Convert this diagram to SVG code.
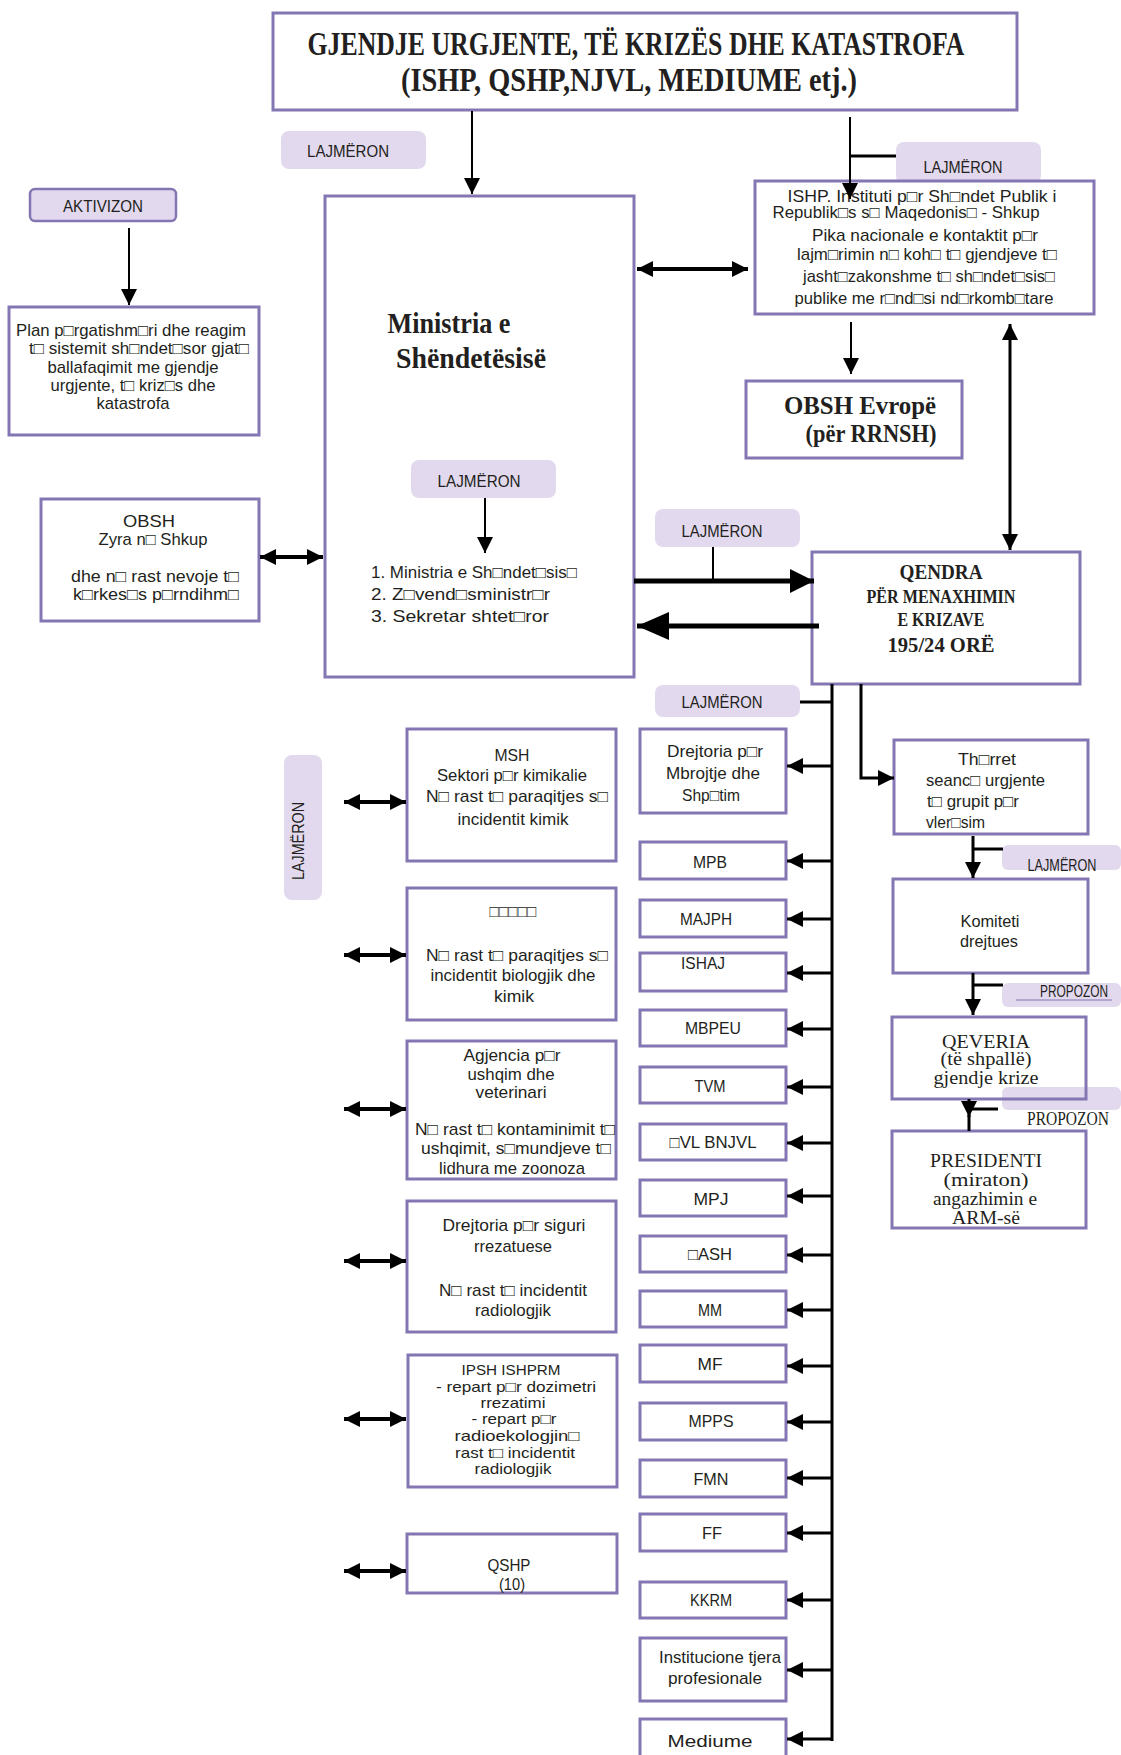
<svg xmlns="http://www.w3.org/2000/svg" width="1121" height="1755" viewBox="0 0 1121 1755">
<style>
.bx{fill:#fff;stroke:#8376b2;stroke-width:3}
.ol{fill:none;stroke:#8376b2;stroke-width:3}
.pl{fill:#e2d9ee}
.t{font-family:"Liberation Sans","DejaVu Sans",sans-serif;font-size:17px;fill:#231f20;text-anchor:middle}
.l{text-anchor:start}
.sm{font-size:15px}
.pt{font-family:"Liberation Sans","DejaVu Sans",sans-serif;font-size:16px;fill:#231f20;text-anchor:middle}
.sb{font-family:"Liberation Serif","DejaVu Serif",serif;font-weight:bold;fill:#231f20;text-anchor:middle}
.sr{font-family:"Liberation Serif","DejaVu Serif",serif;font-size:18px;fill:#231f20;text-anchor:middle}
.c line,.c polyline{stroke:#000;fill:none}
.w2{stroke-width:2}
.w3{stroke-width:3}
.w4{stroke-width:4}
.w5{stroke-width:5}
</style>
<defs>
<marker id="a" viewBox="0 0 16 16" refX="16" refY="8" markerWidth="16" markerHeight="16" orient="auto-start-reverse" markerUnits="userSpaceOnUse"><path d="M0,0L16,8L0,16z" fill="#000"/></marker>
<marker id="bR" viewBox="0 0 24 24" refX="24" refY="12" markerWidth="24" markerHeight="24" orient="auto" markerUnits="userSpaceOnUse"><path d="M0,0L24,12L0,24z" fill="#000"/></marker>
<marker id="bL" viewBox="0 0 32 28" refX="32" refY="14" markerWidth="32" markerHeight="28" orient="auto" markerUnits="userSpaceOnUse"><path d="M0,0L32,14L0,28z" fill="#000"/></marker>
</defs>
<rect width="1121" height="1755" fill="#fff"/>

<g id="title">
<rect class="bx" x="273" y="13" width="744" height="97"/>
<text class="sb" x="636" y="55" font-size="34" textLength="657" lengthAdjust="spacingAndGlyphs">GJENDJE URGJENTE, TË KRIZËS DHE KATASTROFA</text>
<text class="sb" x="629" y="91" font-size="34" textLength="456" lengthAdjust="spacingAndGlyphs">(ISHP, QSHP,NJVL, MEDIUME etj.)</text>
</g>

<g id="pill-lajmeron-1">
<rect class="pl" x="281" y="131" width="145" height="38" rx="8"/>
<text class="pt" x="348" y="157" textLength="82" lengthAdjust="spacingAndGlyphs">LAJMËRON</text>
</g>

<g id="pill-aktivizon">
<rect class="pl" x="30" y="189" width="146" height="32" rx="5" stroke="#8376b2" stroke-width="2.5"/>
<text class="pt" x="103" y="212" textLength="80" lengthAdjust="spacingAndGlyphs">AKTIVIZON</text>
</g>

<g id="plan">
<rect class="bx" x="9" y="307" width="250" height="128"/>
<text class="t" x="131" y="336" textLength="230" lengthAdjust="spacingAndGlyphs">Plan p□rgatishm□ri dhe reagim</text>
<text class="t" x="139" y="354" textLength="220" lengthAdjust="spacingAndGlyphs">t□ sistemit sh□ndet□sor gjat□</text>
<text class="t" x="133" y="373" textLength="171" lengthAdjust="spacingAndGlyphs">ballafaqimit me gjendje</text>
<text class="t" x="133" y="391" textLength="165" lengthAdjust="spacingAndGlyphs">urgjente, t□ kriz□s dhe</text>
<text class="t" x="133" y="409" textLength="73" lengthAdjust="spacingAndGlyphs">katastrofa</text>
</g>

<g id="ministria">
<rect class="bx" x="325" y="196" width="309" height="481"/>
<text class="sb" x="449" y="333" font-size="30" textLength="123" lengthAdjust="spacingAndGlyphs">Ministria e</text>
<text class="sb" x="471" y="368" font-size="30" textLength="150" lengthAdjust="spacingAndGlyphs">Shëndetësisë</text>
<rect class="pl" x="411" y="460" width="145" height="38" rx="8"/>
<text class="pt" x="479" y="487" textLength="83" lengthAdjust="spacingAndGlyphs">LAJMËRON</text>
<text class="t l" x="371" y="578" textLength="206" lengthAdjust="spacingAndGlyphs">1. Ministria e Sh□ndet□sis□</text>
<text class="t l" x="371" y="600" textLength="179" lengthAdjust="spacingAndGlyphs">2. Z□vend□sministr□r</text>
<text class="t l" x="371" y="622" textLength="178" lengthAdjust="spacingAndGlyphs">3. Sekretar shtet□ror</text>
</g>

<g id="obsh-zyra">
<rect class="bx" x="41" y="499" width="218" height="122"/>
<text class="t" x="149" y="527" textLength="52" lengthAdjust="spacingAndGlyphs">OBSH</text>
<text class="t" x="153" y="545" textLength="109" lengthAdjust="spacingAndGlyphs">Zyra n□ Shkup</text>
<text class="t" x="155" y="582" textLength="168" lengthAdjust="spacingAndGlyphs">dhe n□ rast nevoje t□</text>
<text class="t" x="156" y="600" textLength="166" lengthAdjust="spacingAndGlyphs">k□rkes□s p□rndihm□</text>
</g>

<g id="pill-lajmeron-2">
<rect class="pl" x="896" y="142" width="145" height="42" rx="8"/>
<text class="pt" x="963" y="173" textLength="79" lengthAdjust="spacingAndGlyphs">LAJMËRON</text>
</g>

<g id="ishp">
<rect class="bx" x="755" y="181" width="339" height="133"/>
<text class="t" x="922" y="202" textLength="269" lengthAdjust="spacingAndGlyphs">ISHP. Instituti p□r Sh□ndet Publik i</text>
<text class="t" x="906" y="218" textLength="267" lengthAdjust="spacingAndGlyphs">Republik□s s□ Maqedonis□ - Shkup</text>
<text class="t" x="925" y="241" textLength="226" lengthAdjust="spacingAndGlyphs">Pika nacionale e kontaktit p□r</text>
<text class="t" x="927" y="260" textLength="260" lengthAdjust="spacingAndGlyphs">lajm□rimin n□ koh□ t□ gjendjeve t□</text>
<text class="t" x="929" y="282" textLength="252" lengthAdjust="spacingAndGlyphs">jasht□zakonshme t□ sh□ndet□sis□</text>
<text class="t" x="924" y="304" textLength="259" lengthAdjust="spacingAndGlyphs">publike me r□nd□si nd□rkomb□tare</text>
</g>

<g id="obsh-evrope">
<rect class="bx" x="746" y="381" width="216" height="77"/>
<text class="sb" x="860" y="414" font-size="25" textLength="152" lengthAdjust="spacingAndGlyphs">OBSH Evropë</text>
<text class="sb" x="871" y="442" font-size="25" textLength="131" lengthAdjust="spacingAndGlyphs">(për RRNSH)</text>
</g>

<g id="pill-lajmeron-3">
<rect class="pl" x="655" y="509" width="145" height="38" rx="8"/>
<text class="pt" x="722" y="537" textLength="81" lengthAdjust="spacingAndGlyphs">LAJMËRON</text>
</g>

<g id="qendra">
<rect class="bx" x="812" y="552" width="268" height="132"/>
<text class="sb" x="941" y="579" font-size="21" textLength="83" lengthAdjust="spacingAndGlyphs">QENDRA</text>
<text class="sb" x="941" y="603" font-size="19" textLength="149" lengthAdjust="spacingAndGlyphs">PËR MENAXHIMIN</text>
<text class="sb" x="941" y="626" font-size="19" textLength="87" lengthAdjust="spacingAndGlyphs">E KRIZAVE</text>
<text class="sb" x="941" y="652" font-size="21" textLength="107" lengthAdjust="spacingAndGlyphs">195/24 ORË</text>
</g>

<g id="pill-lajmeron-4">
<rect class="pl" x="655" y="685" width="145" height="32" rx="8"/>
<text class="pt" x="722" y="708" textLength="81" lengthAdjust="spacingAndGlyphs">LAJMËRON</text>
</g>

<g id="pill-lajmeron-vertical">
<rect class="pl" x="284" y="755" width="38" height="145" rx="8"/>
<text class="pt" transform="translate(304,841) rotate(-90)" x="0" y="0" textLength="78" lengthAdjust="spacingAndGlyphs">LAJMËRON</text>
</g>

<g id="msh">
<rect class="bx" x="407" y="729" width="209" height="132"/>
<text class="t" x="512" y="761" textLength="35" lengthAdjust="spacingAndGlyphs">MSH</text>
<text class="t" x="512" y="781" textLength="150" lengthAdjust="spacingAndGlyphs">Sektori p□r kimikalie</text>
<text class="t" x="517" y="802" textLength="182" lengthAdjust="spacingAndGlyphs">N□ rast t□ paraqitjes s□</text>
<text class="t" x="513" y="825" textLength="111" lengthAdjust="spacingAndGlyphs">incidentit kimik</text>
</g>

<g id="biologjik">
<rect class="bx" x="407" y="888" width="209" height="132"/>
<text class="t" x="513" y="917" textLength="47" lengthAdjust="spacingAndGlyphs">□□□□□</text>
<text class="t" x="517" y="961" textLength="182" lengthAdjust="spacingAndGlyphs">N□ rast t□ paraqitjes s□</text>
<text class="t" x="513" y="981" textLength="165" lengthAdjust="spacingAndGlyphs">incidentit biologjik dhe</text>
<text class="t" x="514" y="1002" textLength="40" lengthAdjust="spacingAndGlyphs">kimik</text>
</g>

<g id="agjencia">
<rect class="bx" x="407" y="1041" width="209" height="138"/>
<text class="t" x="512" y="1061" textLength="97" lengthAdjust="spacingAndGlyphs">Agjencia p□r</text>
<text class="t" x="511" y="1080" textLength="87" lengthAdjust="spacingAndGlyphs">ushqim dhe</text>
<text class="t" x="511" y="1098" textLength="71" lengthAdjust="spacingAndGlyphs">veterinari</text>
<text class="t" x="515" y="1135" textLength="200" lengthAdjust="spacingAndGlyphs">N□ rast t□ kontaminimit t□</text>
<text class="t" x="516" y="1154" textLength="190" lengthAdjust="spacingAndGlyphs">ushqimit, s□mundjeve t□</text>
<text class="t" x="512" y="1174" textLength="146" lengthAdjust="spacingAndGlyphs">lidhura me zoonoza</text>
</g>

<g id="rrezatuese">
<rect class="bx" x="407" y="1201" width="209" height="131"/>
<text class="t" x="514" y="1231" textLength="143" lengthAdjust="spacingAndGlyphs">Drejtoria p□r siguri</text>
<text class="t" x="513" y="1252" textLength="78" lengthAdjust="spacingAndGlyphs">rrezatuese</text>
<text class="t" x="513" y="1296" textLength="148" lengthAdjust="spacingAndGlyphs">N□ rast t□ incidentit</text>
<text class="t" x="513" y="1316" textLength="76" lengthAdjust="spacingAndGlyphs">radiologjik</text>
</g>

<g id="ipsh">
<rect class="bx" x="408" y="1355" width="209" height="132"/>
<text class="t sm" x="511" y="1375" textLength="99" lengthAdjust="spacingAndGlyphs">IPSH ISHPRM</text>
<text class="t sm" x="516" y="1392" textLength="160" lengthAdjust="spacingAndGlyphs">- repart p□r dozimetri</text>
<text class="t sm" x="513" y="1408" textLength="65" lengthAdjust="spacingAndGlyphs">rrezatimi</text>
<text class="t sm" x="514" y="1424" textLength="85" lengthAdjust="spacingAndGlyphs">- repart p□r</text>
<text class="t sm" x="517" y="1441" textLength="125" lengthAdjust="spacingAndGlyphs">radioekologjin□</text>
<text class="t sm" x="515" y="1458" textLength="120" lengthAdjust="spacingAndGlyphs">rast t□ incidentit</text>
<text class="t sm" x="513" y="1474" textLength="77" lengthAdjust="spacingAndGlyphs">radiologjik</text>
</g>

<g id="qshp">
<rect class="bx" x="407" y="1534" width="210" height="59"/>
<text class="t" x="509" y="1571" textLength="43" lengthAdjust="spacingAndGlyphs">QSHP</text>
<text class="t" x="512" y="1590" textLength="26" lengthAdjust="spacingAndGlyphs">(10)</text>
</g>

<g id="drejtoria-mbrojtje">
<rect class="bx" x="640" y="729" width="146" height="84"/>
<text class="t" x="715" y="757" textLength="96" lengthAdjust="spacingAndGlyphs">Drejtoria p□r</text>
<text class="t" x="713" y="779" textLength="94" lengthAdjust="spacingAndGlyphs">Mbrojtje dhe</text>
<text class="t" x="711" y="801" textLength="58" lengthAdjust="spacingAndGlyphs">Shp□tim</text>
</g>
<g id="mpb"><rect class="bx" x="640" y="842" width="146" height="37"/><text class="t" x="710" y="868" textLength="34" lengthAdjust="spacingAndGlyphs">MPB</text></g>
<g id="majph"><rect class="bx" x="640" y="900" width="146" height="37"/><text class="t" x="706" y="925" textLength="52" lengthAdjust="spacingAndGlyphs">MAJPH</text></g>
<g id="ishaj"><rect class="bx" x="640" y="953" width="146" height="38"/><text class="t" x="703" y="969" textLength="44" lengthAdjust="spacingAndGlyphs">ISHAJ</text></g>
<g id="mbpeu"><rect class="bx" x="640" y="1010" width="146" height="36"/><text class="t" x="713" y="1034" textLength="56" lengthAdjust="spacingAndGlyphs">MBPEU</text></g>
<g id="tvm"><rect class="bx" x="640" y="1067" width="146" height="36"/><text class="t" x="710" y="1092" textLength="31" lengthAdjust="spacingAndGlyphs">TVM</text></g>
<g id="njvl"><rect class="bx" x="640" y="1124" width="146" height="36"/><text class="t" x="713" y="1148" textLength="87" lengthAdjust="spacingAndGlyphs">□VL BNJVL</text></g>
<g id="mpj"><rect class="bx" x="640" y="1180" width="146" height="36"/><text class="t" x="711" y="1205" textLength="35" lengthAdjust="spacingAndGlyphs">MPJ</text></g>
<g id="ash"><rect class="bx" x="640" y="1236" width="146" height="36"/><text class="t" x="710" y="1260" textLength="44" lengthAdjust="spacingAndGlyphs">□ASH</text></g>
<g id="mm"><rect class="bx" x="640" y="1291" width="146" height="36"/><text class="t" x="710" y="1316" textLength="24" lengthAdjust="spacingAndGlyphs">MM</text></g>
<g id="mf"><rect class="bx" x="640" y="1345" width="146" height="37"/><text class="t" x="710" y="1370" textLength="25" lengthAdjust="spacingAndGlyphs">MF</text></g>
<g id="mpps"><rect class="bx" x="640" y="1403" width="146" height="37"/><text class="t" x="711" y="1427" textLength="45" lengthAdjust="spacingAndGlyphs">MPPS</text></g>
<g id="fmn"><rect class="bx" x="640" y="1460" width="146" height="37"/><text class="t" x="711" y="1485" textLength="35" lengthAdjust="spacingAndGlyphs">FMN</text></g>
<g id="ff"><rect class="bx" x="640" y="1514" width="146" height="37"/><text class="t" x="712" y="1539" textLength="20" lengthAdjust="spacingAndGlyphs">FF</text></g>
<g id="kkrm"><rect class="bx" x="640" y="1582" width="146" height="36"/><text class="t" x="711" y="1606" textLength="42" lengthAdjust="spacingAndGlyphs">KKRM</text></g>
<g id="institucione">
<rect class="bx" x="640" y="1638" width="146" height="63"/>
<text class="t" x="720" y="1663" textLength="122" lengthAdjust="spacingAndGlyphs">Institucione tjera</text>
<text class="t" x="715" y="1684" textLength="94" lengthAdjust="spacingAndGlyphs">profesionale</text>
</g>
<g id="mediume">
<rect class="bx" x="640" y="1719" width="146" height="42"/>
<text class="t" x="710" y="1747" font-size="24" textLength="85" lengthAdjust="spacingAndGlyphs">Mediume</text>
</g>

<g id="thirret">
<rect class="bx" x="894" y="740" width="194" height="94"/>
<text class="t" x="987" y="765" textLength="58" lengthAdjust="spacingAndGlyphs">Th□rret</text>
<text class="t l" x="926" y="786" textLength="119" lengthAdjust="spacingAndGlyphs">seanc□ urgjente</text>
<text class="t l" x="927" y="807" textLength="92" lengthAdjust="spacingAndGlyphs">t□ grupit p□r</text>
<text class="t l" x="926" y="828" textLength="59" lengthAdjust="spacingAndGlyphs">vler□sim</text>
</g>

<g id="pill-lajmeron-5">
<rect class="pl" x="1002" y="845" width="119" height="25" rx="6"/>
<text class="pt" x="1062" y="871" textLength="69" lengthAdjust="spacingAndGlyphs">LAJMËRON</text>
</g>

<g id="komiteti">
<rect class="bx" x="893" y="879" width="195" height="94"/>
<text class="t" x="990" y="927" textLength="59" lengthAdjust="spacingAndGlyphs">Komiteti</text>
<text class="t" x="989" y="947" textLength="58" lengthAdjust="spacingAndGlyphs">drejtues</text>
</g>

<g id="pill-propozon-1">
<rect class="pl" x="1002" y="983" width="119" height="24" rx="6"/>
<text class="pt" x="1074" y="997" textLength="68" lengthAdjust="spacingAndGlyphs">PROPOZON</text>
<line x1="1016" y1="1000" x2="1112" y2="1000" stroke="#8376b2" stroke-width="1"/>
</g>

<g id="qeveria">
<rect x="892" y="1017" width="194" height="82" fill="#fff"/>
<rect class="pl" x="1002" y="1087" width="119" height="23" rx="6"/>
<rect class="ol" x="892" y="1017" width="194" height="82"/>
<text class="sr" x="986" y="1048" textLength="88" lengthAdjust="spacingAndGlyphs">QEVERIA</text>
<text class="sr" x="986" y="1065" textLength="91" lengthAdjust="spacingAndGlyphs">(të shpallë)</text>
<text class="sr" x="986" y="1084" textLength="105" lengthAdjust="spacingAndGlyphs">gjendje krize</text>
<text class="sr" x="1068" y="1125" font-size="16" textLength="82" lengthAdjust="spacingAndGlyphs">PROPOZON</text>
</g>

<g id="presidenti">
<rect class="bx" x="892" y="1131" width="194" height="97"/>
<text class="sr" x="986" y="1167" textLength="112" lengthAdjust="spacingAndGlyphs">PRESIDENTI</text>
<text class="sr" x="986" y="1186" textLength="85" lengthAdjust="spacingAndGlyphs">(miraton)</text>
<text class="sr" x="985" y="1205" textLength="104" lengthAdjust="spacingAndGlyphs">angazhimin e</text>
<text class="sr" x="986" y="1224" textLength="68" lengthAdjust="spacingAndGlyphs">ARM-së</text>
</g>

<g id="connectors" class="c">
<line class="w2" x1="472" y1="111" x2="472" y2="194" marker-end="url(#a)"/>
<line class="w2" x1="129" y1="228" x2="129" y2="305" marker-end="url(#a)"/>
<line class="w2" x1="850" y1="117" x2="850" y2="199" marker-end="url(#a)"/>
<line class="w3" x1="850" y1="156" x2="896" y2="156"/>
<line class="w4" x1="637" y1="269" x2="748" y2="269" marker-start="url(#a)" marker-end="url(#a)"/>
<line class="w2" x1="851" y1="322" x2="851" y2="374" marker-end="url(#a)"/>
<line class="w3" x1="1010" y1="324" x2="1010" y2="550" marker-start="url(#a)" marker-end="url(#a)"/>
<line class="w2" x1="485" y1="498" x2="485" y2="553" marker-end="url(#a)"/>
<line class="w4" x1="260" y1="557" x2="323" y2="557" marker-start="url(#a)" marker-end="url(#a)"/>
<line class="w5" x1="634" y1="581" x2="814" y2="581" marker-end="url(#bR)"/>
<line class="w2" x1="713" y1="547" x2="713" y2="581"/>
<line class="w5" x1="819" y1="626" x2="637" y2="626" marker-end="url(#bL)"/>
<line class="w3" x1="832" y1="684" x2="832" y2="1741"/>
<line class="w3" x1="800" y1="702" x2="832" y2="702"/>
<polyline class="w3" points="861,684 861,778 894,778" marker-end="url(#a)"/>
<line class="w3" x1="832" y1="766" x2="787" y2="766" marker-end="url(#a)"/>
<line class="w3" x1="832" y1="861" x2="787" y2="861" marker-end="url(#a)"/>
<line class="w3" x1="832" y1="919" x2="787" y2="919" marker-end="url(#a)"/>
<line class="w3" x1="832" y1="973" x2="787" y2="973" marker-end="url(#a)"/>
<line class="w3" x1="832" y1="1029" x2="787" y2="1029" marker-end="url(#a)"/>
<line class="w3" x1="832" y1="1087" x2="787" y2="1087" marker-end="url(#a)"/>
<line class="w3" x1="832" y1="1143" x2="787" y2="1143" marker-end="url(#a)"/>
<line class="w3" x1="832" y1="1196" x2="787" y2="1196" marker-end="url(#a)"/>
<line class="w3" x1="832" y1="1255" x2="787" y2="1255" marker-end="url(#a)"/>
<line class="w3" x1="832" y1="1310" x2="787" y2="1310" marker-end="url(#a)"/>
<line class="w3" x1="832" y1="1366" x2="787" y2="1366" marker-end="url(#a)"/>
<line class="w3" x1="832" y1="1422" x2="787" y2="1422" marker-end="url(#a)"/>
<line class="w3" x1="832" y1="1478" x2="787" y2="1478" marker-end="url(#a)"/>
<line class="w3" x1="832" y1="1533" x2="787" y2="1533" marker-end="url(#a)"/>
<line class="w3" x1="832" y1="1600" x2="787" y2="1600" marker-end="url(#a)"/>
<line class="w3" x1="832" y1="1670" x2="787" y2="1670" marker-end="url(#a)"/>
<line class="w3" x1="832" y1="1739" x2="787" y2="1739" marker-end="url(#a)"/>
<line class="w3" x1="973" y1="836" x2="973" y2="878" marker-end="url(#a)"/>
<line class="w3" x1="973" y1="849" x2="1003" y2="849"/>
<line class="w3" x1="973" y1="973" x2="973" y2="1015" marker-end="url(#a)"/>
<line class="w3" x1="973" y1="985" x2="1003" y2="985"/>
<line class="w3" x1="969" y1="1099" x2="969" y2="1117" marker-end="url(#a)"/>
<line class="w3" x1="969" y1="1115" x2="969" y2="1131"/>
<line class="w3" x1="969" y1="1109" x2="998" y2="1109"/>
<line class="w4" x1="344" y1="802" x2="406" y2="802" marker-start="url(#a)" marker-end="url(#a)"/>
<line class="w4" x1="344" y1="955" x2="406" y2="955" marker-start="url(#a)" marker-end="url(#a)"/>
<line class="w4" x1="344" y1="1109" x2="406" y2="1109" marker-start="url(#a)" marker-end="url(#a)"/>
<line class="w4" x1="344" y1="1261" x2="406" y2="1261" marker-start="url(#a)" marker-end="url(#a)"/>
<line class="w4" x1="344" y1="1419" x2="406" y2="1419" marker-start="url(#a)" marker-end="url(#a)"/>
<line class="w4" x1="344" y1="1571" x2="406" y2="1571" marker-start="url(#a)" marker-end="url(#a)"/>
</g>
</svg>
